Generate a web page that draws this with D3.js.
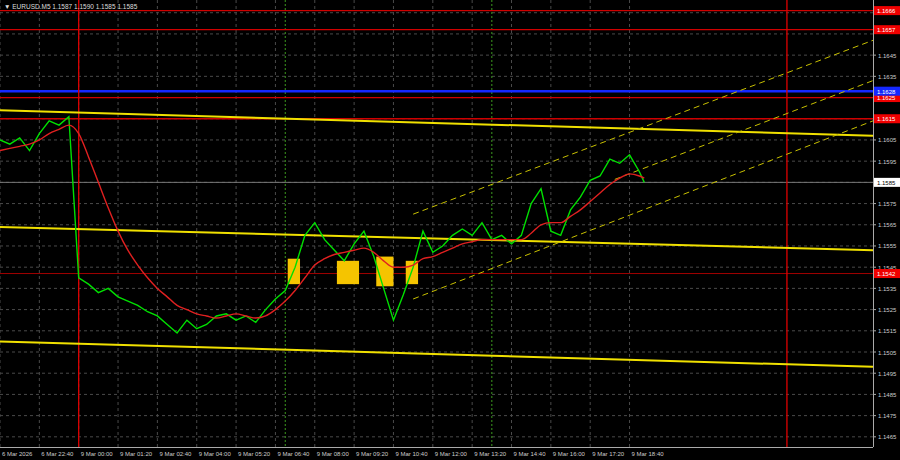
<!DOCTYPE html><html><head><meta charset="utf-8"><script src="https://cdn.jsdelivr.net/npm/d3@7"></script>
<style>body{margin:0;background:#000}svg text{font-family:"Liberation Sans",sans-serif}</style></head><body><svg id="c" width="900" height="460"></svg>
<script>
const closes=[1.1605,1.1603,1.1606,1.1600,1.1608,1.1614,1.1612,1.1616,1.1540,1.1537,1.1533,1.1535,1.1531,1.1529,1.1527,1.1524,1.1522,1.1518,1.1514,1.1520,1.1516,1.1518,1.1522,1.1523,1.1520,1.1522,1.1519,1.1525,1.1530,1.1534,1.1545,1.1560,1.1566,1.1558,1.1553,1.1548,1.1556,1.1562,1.1550,1.1535,1.1520,1.1532,1.1545,1.1562,1.1552,1.1555,1.1560,1.1563,1.1560,1.1566,1.1558,1.1560,1.1556,1.1560,1.1575,1.1582,1.1562,1.1560,1.1572,1.1578,1.1586,1.1588,1.1596,1.1594,1.1598,1.1590,1.1585];
const ma=[1.1600,1.1601,1.1602,1.1603,1.1605,1.1608,1.1610,1.1612,1.1608,1.1597,1.1585,1.1573,1.1562,1.1553,1.1546,1.1540,1.1535,1.1531,1.1527,1.1525,1.1523,1.1522,1.1521,1.1522,1.1523,1.1522,1.1521,1.1522,1.1525,1.1529,1.1534,1.1540,1.1546,1.1549,1.1551,1.1552,1.1553,1.1554,1.1552,1.1548,1.1545,1.1545,1.1546,1.1549,1.1550,1.1552,1.1554,1.1556,1.1557,1.1558,1.1558,1.1558,1.1558,1.1558,1.1561,1.1565,1.1566,1.1566,1.1569,1.1572,1.1576,1.1580,1.1584,1.1587,1.1589,1.1588,1.1587];
const timeLabels=["6 Mar 2026","6 Mar 22:40","9 Mar 00:00","9 Mar 01:20","9 Mar 02:40","9 Mar 04:00","9 Mar 05:20","9 Mar 06:40","9 Mar 08:00","9 Mar 09:20","9 Mar 10:40","9 Mar 12:00","9 Mar 13:20","9 Mar 14:40","9 Mar 16:00","9 Mar 17:20","9 Mar 18:40"];
const priceTicks=[1.1465,1.1475,1.1485,1.1495,1.1505,1.1515,1.1525,1.1535,1.1545,1.1555,1.1565,1.1575,1.1595,1.1605,1.1635,1.1645];
const redLevels=[1.1666,1.1657,1.1625,1.1615];
const supportLevel=1.1542, blueLevel=1.1628, lastPrice=1.1585;
const trendLines=[[1.1619,1.1607],[1.1564,1.1553],[1.1510,1.1498]];
const channel=[[1.1570,1.1652],[1.1550,1.1633],[1.1530,1.1614]];
const boxes=[[117,122,1.1537,1.1549],[137,146,1.1537,1.1548],[153,160,1.1536,1.1550],[165,170,1.1537,1.1548]];
const W=873,H=447;
const x=d3.scaleLinear().domain([0,355]).range([0,W]);
const y=d3.scaleLinear().domain([1.14602,1.1671]).range([H,0]);
const svg=d3.select("#c");
const g=svg.append("g");
timeLabels.forEach((t,i)=>g.append("line").attr("x1",x(i*16)).attr("x2",x(i*16)).attr("y1",0).attr("y2",H).attr("stroke","#4a4a4a").attr("stroke-dasharray","3,3"));
for(let i=0;i<=22;i++){const yy=y(1.1465+i*0.001);g.append("line").attr("x1",0).attr("x2",W).attr("y1",yy).attr("y2",yy).attr("stroke","#4a4a4a").attr("stroke-dasharray","3,3");}
[116,200].forEach(i=>g.append("line").attr("x1",x(i)).attr("x2",x(i)).attr("y1",0).attr("y2",H).attr("stroke","#3c9a1e").attr("stroke-dasharray","2,2"));
redLevels.forEach(p=>g.append("line").attr("x1",0).attr("x2",W).attr("y1",y(p)).attr("y2",y(p)).attr("stroke","#d00000").attr("stroke-width",1.3));
g.append("line").attr("x1",0).attr("x2",W).attr("y1",y(supportLevel)).attr("y2",y(supportLevel)).attr("stroke","#a00000");
g.append("line").attr("x1",0).attr("x2",W).attr("y1",y(lastPrice)).attr("y2",y(lastPrice)).attr("stroke","#777");
g.append("line").attr("x1",0).attr("x2",W).attr("y1",y(blueLevel)).attr("y2",y(blueLevel)).attr("stroke","#1428ff").attr("stroke-width",2.5);
[32,320].forEach(i=>g.append("line").attr("x1",x(i)).attr("x2",x(i)).attr("y1",0).attr("y2",H).attr("stroke","#e00000").attr("stroke-width",1.3));
trendLines.forEach(t=>g.append("line").attr("x1",0).attr("x2",W).attr("y1",y(t[0])).attr("y2",y(t[1])).attr("stroke","#f0e000").attr("stroke-width",2));
channel.forEach((c,k)=>g.append("line").attr("x1",x(k==1?250:168)).attr("x2",W).attr("y1",y(k==1?c[0]+(c[1]-c[0])*82/187:c[0])).attr("y2",y(c[1])).attr("stroke","#c8c000").attr("stroke-dasharray","6,4"));
boxes.forEach(b=>g.append("rect").attr("x",x(b[0])).attr("width",x(b[1])-x(b[0])).attr("y",y(b[3])).attr("height",y(b[2])-y(b[3])).attr("fill","#f5c400"));
const line=d3.line().x((d,i)=>x(Math.min(i*4,262))).y(d=>y(d));
g.append("path").datum(closes).attr("d",line).attr("fill","none").attr("stroke","#00e000").attr("stroke-width",1.4);
g.append("path").datum(ma).attr("d",line.curve(d3.curveMonotoneX)).attr("fill","none").attr("stroke","#e02020").attr("stroke-width",1.4);
svg.append("line").attr("x1",W+0.5).attr("x2",W+0.5).attr("y1",0).attr("y2",H).attr("stroke","#aaa");
svg.append("line").attr("x1",0).attr("x2",W).attr("y1",H+0.5).attr("y2",H+0.5).attr("stroke","#aaa");
priceTicks.forEach(p=>{svg.append("line").attr("x1",W).attr("x2",W+3).attr("y1",y(p)).attr("y2",y(p)).attr("stroke","#aaa");svg.append("text").attr("x",W+5).attr("y",y(p)+2.5).attr("fill","#ccc").attr("font-size",6).text(p.toFixed(4));});
timeLabels.forEach((t,i)=>svg.append("text").attr("x",x(i*16)+2).attr("y",456).attr("fill","#ccc").attr("font-size",6).text(t));
function tag(p,bg,fg){svg.append("rect").attr("x",W+1).attr("y",y(p)-4.5).attr("width",26).attr("height",9).attr("fill",bg);svg.append("text").attr("x",W+4).attr("y",y(p)+2.5).attr("fill",fg).attr("font-size",6).text(p.toFixed(4));}
redLevels.forEach(p=>tag(p,"#f00000","#fff"));tag(supportLevel,"#f00000","#fff");tag(blueLevel,"#1428ff","#fff");tag(lastPrice,"#fff","#000");
svg.append("text").attr("x",4).attr("y",9).attr("fill","#ddd").attr("font-size",6.5).text("▼ EURUSD.M5  1.1587 1.1590 1.1585 1.1585");
</script></body></html>
